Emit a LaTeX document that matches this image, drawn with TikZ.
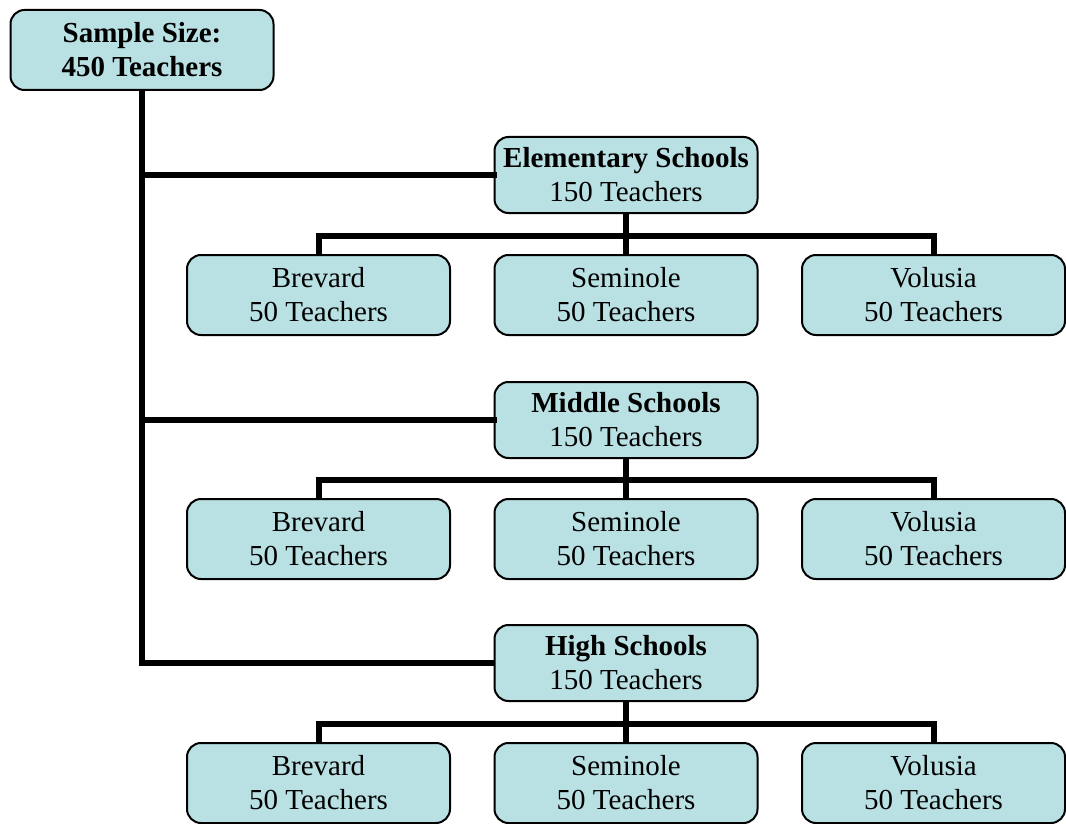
\documentclass[tikz,border=0pt]{standalone}
\usepackage{fontspec}
\setmainfont{Liberation Serif}
\definecolor{boxfill}{RGB}{185,224,227}

\tikzset{
  unit/.style={rectangle, rounded corners=14pt, draw=black, line width=2pt,
    fill=boxfill, minimum width=263pt, minimum height=80pt, align=center,
    inner sep=2pt, font=\fontsize{29}{34}\selectfont},
  level/.style={unit, minimum height=76pt, font=\fontsize{29}{34}\selectfont},
  bar/.style={line width=6pt, line cap=rect}
}

\begin{document}
\begin{tikzpicture}[x=1pt, y=-1pt]
        \useasboundingbox (0,0) rectangle (1066,824);

        % Whole sample
        \node[unit] (sample) at (142,50) {\textbf{Sample Size:}\\\textbf{450 Teachers}};

        % Three school levels
        \node[level] (elem) at (626,175) {\textbf{Elementary Schools}\\150 Teachers};
        \node[level] (mid) at (626,420) {\textbf{Middle Schools}\\150 Teachers};
        \node[level] (high) at (626,663) {\textbf{High Schools}\\150 Teachers};

        % Counties below each level
        \foreach \lv/\y in {elem/295, mid/539, high/783}
        {
          \node[unit] (\lv-bre) at (318.5,\y) {Brevard\\50 Teachers};
          \node[unit] (\lv-sem) at (626,\y) {Seminole\\50 Teachers};
          \node[unit] (\lv-vol) at (933.5,\y) {Volusia\\50 Teachers};
        }

        % Trunk to the levels
        \draw[bar, line cap=butt] (sample.south) |- (high.west);
        \draw[bar] (sample.south |- elem.west) -- (elem.west);
        \draw[bar] (sample.south |- mid.west) -- (mid.west);

        % Branches to the counties
        \foreach \lv in {elem, mid, high}
        {
          \draw[bar, line cap=butt] (\lv.south) -- (\lv-sem.north);
          \draw[bar, line cap=butt] (\lv-bre.north) -- ++(0,-18) -| (\lv-vol.north);
        }
      \end{tikzpicture}
\end{document}
